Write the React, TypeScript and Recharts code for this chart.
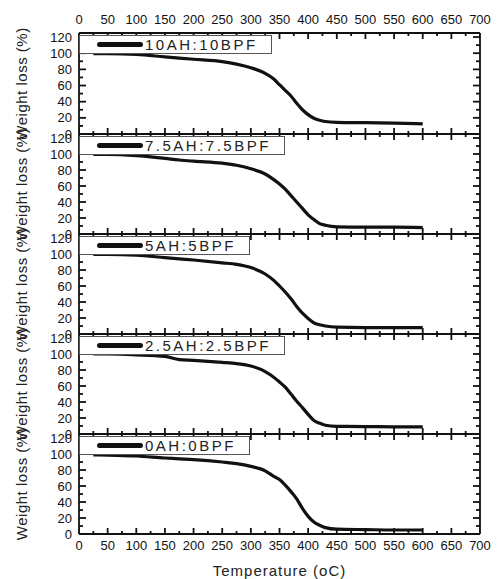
import React from 'react';
import { ComposedChart, Line, Scatter, XAxis, YAxis, Legend } from 'recharts';

const W = 498;
const H = 579;
const FONT = '"Liberation Sans", Arial, Helvetica, sans-serif';
const INK = '#111';

// Temperatures (oC) at which the curves were read
const temperature = [25, 50, 100, 150, 175, 200, 250, 275, 300, 325, 340, 350, 360, 370, 380, 390, 400, 410, 420, 430, 450, 500, 550, 600];

// Weight loss (%) per sample
const loss10 = [99.5, 99.5, 98.5, 95.5, 94, 92.5, 89.5, 86.5, 82, 75, 68, 61, 54, 47, 38, 30, 24, 19.5, 17, 15.5, 14.5, 14, 13.5, 12.5];
const loss75 = [99.5, 99.5, 98, 94.5, 92.5, 91, 88.5, 86, 81.5, 75, 68, 62.5, 56, 48, 40, 32, 24, 18, 13, 11, 9, 8.5, 8.5, 8];
const loss5 = [99.5, 99.5, 98.5, 95.5, 94, 92.5, 89, 87, 83, 75, 67, 60, 52.5, 44, 34.5, 26, 19.5, 14, 11.5, 10, 8.5, 8, 8, 8];
const loss25 = [100, 100, 99, 97, 93, 92, 89.5, 88, 85, 78, 71, 65, 58.5, 50, 41, 33, 24.5, 17, 13.5, 11, 9.6, 9.3, 9, 9];
const loss0 = [99, 98.5, 97.5, 95, 94, 93, 90, 88, 84.5, 79, 72, 68, 61, 53, 44, 32, 22, 15, 11, 8, 6, 5.5, 5, 5];

const sampleLabels = ['10AH:10BPF', '7.5AH:7.5BPF', '5AH:5BPF', '2.5AH:2.5BPF', '0AH:0BPF'];
const sampleLosses = [loss10, loss75, loss5, loss25, loss0];

// Tick values
const xMajorTicks = [0, 50, 100, 150, 200, 250, 300, 350, 400, 450, 500, 550, 600, 650, 700];
const xMinorTicks = [25, 75, 125, 175, 225, 275, 325, 375, 425, 475, 525, 575, 625, 675];
const yMajorTicks = [0, 20, 40, 60, 80, 100, 120];
const yMinorTicks = [10, 30, 50, 70, 90, 110];
const X_MIN = 0;
const X_MAX = 700;
const Y_MIN = 0;
const Y_MAX = 125;

// Layout (pixels)
const panelTops = [33, 134, 234, 334, 434];
const panelBottoms = [134, 234, 334, 434, 534];
const PLOT_LEFT = 79;
const PLOT_RIGHT = 480;

const AXIS_LINE = { stroke: INK, strokeWidth: 1.8 };

// inward tick marks, drawn through the chart scales
const tickShape = (dx: number, dy: number) => (p: any) => (
  <path d={`M${p.cx},${p.cy}l${dx},${dy}`} stroke={INK} strokeWidth={1.8} fill="none" />
);

const xTickRows = (w: number, ticks: number[]) => ticks.map((t) => ({ t, w }));
const yTickCols = (t: number, ticks: number[]) => ticks.map((w) => ({ t, w }));

const bottomMajor = xTickRows(Y_MIN, xMajorTicks);
const bottomMinor = xTickRows(Y_MIN, xMinorTicks);
const topMajor = xTickRows(Y_MAX, xMajorTicks);
const topMinor = xTickRows(Y_MAX, xMinorTicks);
const leftMajor = yTickCols(X_MIN, yMajorTicks);
const leftMinor = yTickCols(X_MIN, yMinorTicks);
const rightMajor = yTickCols(X_MAX, yMajorTicks);
const rightMinor = yTickCols(X_MAX, yMinorTicks);

const makeBottomLabel = (show: boolean) => (props: any) => {
  const { x, y, payload } = props;
  if (!show) return <g />;
  return (
    <text x={x} y={y + 16} textAnchor="middle" fontSize={13} fontFamily={FONT} fill={INK} stroke="none">
      {payload.value}
    </text>
  );
};

const makeTopLabel = (show: boolean) => (props: any) => {
  const { x, y, payload } = props;
  if (!show) return <g />;
  return (
    <text x={x} y={y - 9.5} textAnchor="middle" fontSize={13} fontFamily={FONT} fill={INK} stroke="none">
      {payload.value}
    </text>
  );
};

const LeftLabel = (props: any) => {
  const { x, y, payload } = props;
  return (
    <text x={x - 7} y={y + 4.5} textAnchor="end" fontSize={13} fontFamily={FONT} fill={INK} stroke="none">
      {payload.value}
    </text>
  );
};

const YTitle = (props: any) => {
  const vb = props.viewBox || {};
  const cx = vb.x + 2;
  const cy = vb.y + vb.height / 2;
  return (
    <text
      x={cx}
      y={cy}
      transform={`rotate(-90 ${cx} ${cy})`}
      textAnchor="middle"
      dominantBaseline="central"
      fontSize={15}
      letterSpacing={0.5}
      fontFamily={FONT}
      fill="#222"
    >
      Weight loss (%)
    </text>
  );
};

const XTitle = (props: any) => {
  const vb = props.viewBox || {};
  const cx = vb.x + vb.width / 2;
  return (
    <text x={cx} y={576} textAnchor="middle" fontSize={15} letterSpacing={1} fontFamily={FONT} fill="#222">
      Temperature (oC)
    </text>
  );
};

const LegendBox = ({ label }: { label: string }) => (
  <div
    style={{
      display: 'inline-flex',
      alignItems: 'center',
      boxSizing: 'border-box',
      height: 19,
      border: '1px solid #555',
      background: '#fff',
      paddingLeft: 17,
      paddingRight: 13,
      whiteSpace: 'nowrap',
    }}
  >
    <span style={{ display: 'inline-block', width: 46, height: 5, background: INK, borderRadius: 2.5 }} />
    <span
      style={{
        marginLeft: 2,
        fontFamily: FONT,
        fontSize: 15,
        letterSpacing: 2.5,
        color: '#222',
        lineHeight: '17px',
      }}
    >
      {label}
    </span>
  </div>
);

function Panel({ idx }: { idx: number }) {
  const top = panelTops[idx];
  const bottom = panelBottoms[idx];
  const isFirst = idx === 0;
  const isLast = idx === sampleLabels.length - 1;
  const topH = isFirst ? top : 4;
  const botH = isLast ? H - bottom : 4;
  const leftW = 60;
  const rightW = 6;
  const margin = {
    top: top - topH,
    bottom: H - bottom - botH,
    left: PLOT_LEFT - leftW,
    right: W - PLOT_RIGHT - rightW,
  };
  const losses = sampleLosses[idx];
  const data = temperature.map((t, i) => ({ t, w: losses[i] }));
  const xCommon = { type: 'number' as const, dataKey: 't', domain: [X_MIN, X_MAX], allowDataOverflow: true, interval: 0 as const };
  const yCommon = { type: 'number' as const, dataKey: 'w', domain: [Y_MIN, Y_MAX], allowDataOverflow: true, interval: 0 as const };
  const tickSeries: [any[], number, number][] = [
    [bottomMajor, 0, -6],
    [bottomMinor, 0, -3],
    [topMajor, 0, 6],
    [topMinor, 0, 3],
    [leftMajor, 7, 0],
    [leftMinor, 4, 0],
    [rightMajor, -7, 0],
    [rightMinor, -4, 0],
  ];
  return (
    <div style={{ position: 'absolute', left: 0, top: 0 }}>
      <ComposedChart width={W} height={H} data={data} margin={margin}>
        <XAxis
          {...xCommon}
          xAxisId="b"
          orientation="bottom"
          ticks={xMajorTicks}
          height={botH}
          tickSize={0}
          tickMargin={0}
          tickLine={false}
          axisLine={AXIS_LINE}
          tick={makeBottomLabel(isLast)}
          label={isLast ? XTitle : undefined}
        />
        <XAxis
          {...xCommon}
          xAxisId="t"
          orientation="top"
          ticks={xMajorTicks}
          height={topH}
          tickSize={0}
          tickMargin={0}
          tickLine={false}
          axisLine={AXIS_LINE}
          tick={makeTopLabel(isFirst)}
        />
        <YAxis
          {...yCommon}
          yAxisId="l"
          orientation="left"
          ticks={yMajorTicks}
          width={leftW}
          tickSize={0}
          tickMargin={0}
          tickLine={false}
          axisLine={AXIS_LINE}
          tick={LeftLabel}
          label={YTitle}
        />
        <YAxis
          {...yCommon}
          yAxisId="r"
          orientation="right"
          ticks={yMajorTicks}
          width={rightW}
          tickSize={0}
          tickMargin={0}
          tickLine={false}
          axisLine={AXIS_LINE}
          tick={false}
        />
        <Legend
          verticalAlign="middle"
          align="center"
          layout="horizontal"
          wrapperStyle={{ left: PLOT_LEFT, top: top, width: 'auto', height: 'auto', margin: 0, padding: 0 }}
          content={() => <LegendBox label={sampleLabels[idx]} />}
        />
        <Line
          xAxisId="b"
          yAxisId="l"
          type="monotone"
          dataKey="w"
          name={sampleLabels[idx]}
          stroke={INK}
          strokeWidth={3.2}
          dot={false}
          isAnimationActive={false}
        />
        {/* invisible helper series so the top/right axes get a scale */}
        <Line xAxisId="t" yAxisId="r" dataKey="w" stroke="none" strokeWidth={0} dot={false} activeDot={false} legendType="none" isAnimationActive={false} />
        {tickSeries.map(([rows, dx, dy], k) => (
          <Scatter
            key={k}
            xAxisId="b"
            yAxisId="l"
            data={rows}
            dataKey="w"
            legendType="none"
            shape={tickShape(dx, dy)}
            isAnimationActive={false}
          />
        ))}
      </ComposedChart>
    </div>
  );
}

export default function App() {
  return (
    <div style={{ position: 'absolute', left: 0, top: 0, width: W, height: H, background: '#fff' }}>
      {sampleLabels.map((_, i) => (
        <Panel key={i} idx={i} />
      ))}
    </div>
  );
}
